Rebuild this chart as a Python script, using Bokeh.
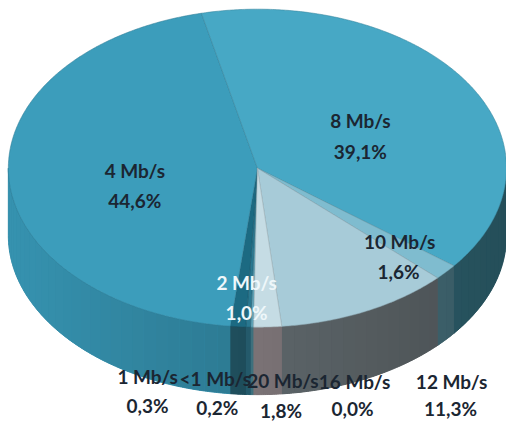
import math
from bokeh.plotting import figure
from bokeh.models import Range1d
from bokeh.embed import file_html
from bokeh.resources import INLINE
from bokeh.core.properties import value

# ---- data (clockwise order) ----
categories = ["<1 Mb/s", "1 Mb/s", "2 Mb/s", "4 Mb/s", "8 Mb/s", "10 Mb/s", "12 Mb/s", "16 Mb/s", "20 Mb/s"]
shares = [0.2, 0.3, 1.0, 44.6, 39.1, 1.6, 11.3, 0.0, 1.8]
pct_labels = ["0,2%", "0,3%", "1,0%", "44,6%", "39,1%", "1,6%", "11,3%", "0,0%", "1,8%"]

# ---- styles ----
top_colors = ["#5fa2b6", "#2a7890", "#1c6a82", "#3c9dbb", "#47a8c5", "#7fbccf", "#a7cbd8", "#b6d3de", "#c5dce4"]
side_colors = ["#3d6f7c", "#24596a", "#1e4c5a", "#2c7890", "#2f6472", "#46707c", "#5d6569", "#6a6a70", "#7a7275"]
label_colors = ["#1b2632"] * 9
label_colors[2] = "#eef7fa"

# label layout (pixel coords of the picture): x, y of name, x, y of percentage
label_layout = {
    "<1 Mb/s": (223, 398, 225, 428),
    "1 Mb/s": (154, 396, 154, 426),
    "2 Mb/s": (255, 299, 255, 330),
    "4 Mb/s": (141, 182, 141, 214),
    "8 Mb/s": (371, 131, 371, 163),
    "10 Mb/s": (411, 256, 410, 287),
    "12 Mb/s": (464, 401, 463, 429),
    "16 Mb/s": (365, 401, 363, 429),
    "20 Mb/s": (292, 400, 290, 431),
}

# geometry
CX, CY, A, B, DEPTH = 266.0, 180.0, 254.0, 165.0, 70.0
END_OF_4 = 347.0  # clockwise angle (deg from top) where the 4 Mb/s slice ends


def pt(theta_deg):
    t = math.radians(theta_deg)
    return CX + A * math.sin(t), CY - B * math.cos(t)


def hex_scale(c, m):
    r, g, b = int(c[1:3], 16), int(c[3:5], 16), int(c[5:7], 16)
    r, g, b = [max(0, min(255, int(round(v * m)))) for v in (r, g, b)]
    return "#%02x%02x%02x" % (r, g, b)


def shade(theta):
    return 1 + 0.22 * math.sin(math.radians(theta - 180))


total = sum(shares)
cum_before_8 = sum(shares[:4])
start = END_OF_4 - cum_before_8 / total * 360.0

angles = []
a0 = start
for s in shares:
    a1 = a0 + s / total * 360.0
    angles.append((a0, a1))
    a0 = a1

p = figure(width=506, height=424, x_range=Range1d(4, 520), y_range=Range1d(446, 6),
           output_backend="svg", toolbar_location=None, min_border=0,
           x_axis_type=None, y_axis_type=None)
p.xgrid.visible = False
p.ygrid.visible = False
p.outline_line_color = None
p.background_fill_color = "white"
p.border_fill_color = "white"

# ---- sides (front half: 90..270 deg) ----
bx, by, bc = [], [], []
sx, sy, sc = [], [], []
for i, (t0, t1) in enumerate(angles):
    if t1 - t0 <= 0:
        continue
    for k in (-1, 0, 1):
        lo = max(t0, 90 + 360 * k)
        hi = min(t1, 270 + 360 * k)
        if hi <= lo:
            continue
        n = max(1, int(math.ceil((hi - lo) / 0.5)))
        top_pts = [pt(lo + (hi - lo) * j / n) for j in range(n + 1)]
        bx.append([q[0] for q in top_pts] + [q[0] for q in reversed(top_pts)])
        by.append([q[1] for q in top_pts] + [q[1] + DEPTH for q in reversed(top_pts)])
        bc.append(hex_scale(side_colors[i], shade((lo + hi) / 2)))
        m_steps = max(1, int(math.ceil((hi - lo) / 3.0)))
        for j in range(m_steps):
            u0 = lo + (hi - lo) * j / m_steps
            u1 = lo + (hi - lo) * (j + 1) / m_steps
            pts = [pt(u0 + (u1 - u0) * q / 6) for q in range(7)]
            sx.append([q[0] for q in pts] + [q[0] for q in reversed(pts)])
            sy.append([q[1] for q in pts] + [q[1] + DEPTH for q in reversed(pts)])
            sc.append(hex_scale(side_colors[i], shade((u0 + u1) / 2)))
p.patches(bx, by, fill_color=bc, line_color=bc, line_width=1)
p.patches(sx, sy, fill_color=sc, line_color=None)

# ---- top faces ----
tx, ty, tc, lc = [], [], [], []
for i, (t0, t1) in enumerate(angles):
    if t1 - t0 <= 0:
        continue
    n = max(2, int(math.ceil((t1 - t0) / 0.5)))
    xs, ys = [CX], [CY]
    for j in range(n + 1):
        x, y = pt(t0 + (t1 - t0) * j / n)
        xs.append(x)
        ys.append(y)
    tx.append(xs)
    ty.append(ys)
    tc.append(top_colors[i])
    lc.append(hex_scale(top_colors[i], 0.8))
p.patches(tx, ty, fill_color=tc, line_color=lc, line_width=0.8, line_alpha=0.7)

# ---- labels ----
for i, name in enumerate(categories):
    x1, y1, x2, y2 = label_layout[name]
    p.text(x=[x1], y=[y1], text=[name], text_align="center", text_baseline="middle",
           text_font=value("Lato"), text_font_style="bold", text_font_size="19px",
           text_color=label_colors[i])
    p.text(x=[x2], y=[y2], text=[pct_labels[i]], text_align="center", text_baseline="middle",
           text_font=value("Lato"), text_font_style="bold", text_font_size="19px",
           text_color=label_colors[i])

open("out.html", "w").write(file_html(p, INLINE))
